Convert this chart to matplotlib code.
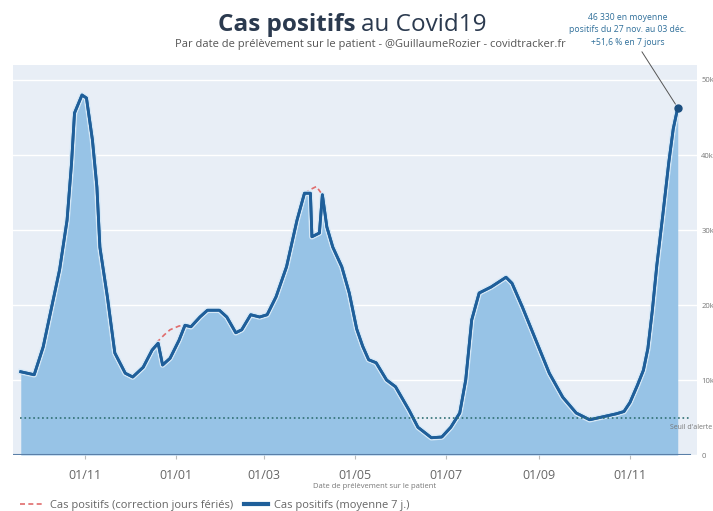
import matplotlib
matplotlib.use("Agg")
import matplotlib.pyplot as plt
import matplotlib.patheffects as pe
import pandas as pd
from matplotlib.lines import Line2D

plt.rcParams['font.family'] = ['Open Sans', 'DejaVu Sans']

# Cas positifs, moyenne 7 jours (par date de prélèvement)
dates = ["2020-09-19", "2020-09-28", "2020-10-04", "2020-10-15", "2020-10-20", "2020-10-23",
         "2020-10-25", "2020-10-30", "2020-11-02", "2020-11-06", "2020-11-09", "2020-11-11",
         "2020-11-16", "2020-11-21", "2020-11-28", "2020-12-03", "2020-12-10", "2020-12-16",
         "2020-12-20", "2020-12-23", "2020-12-28", "2021-01-03", "2021-01-07", "2021-01-11",
         "2021-01-17", "2021-01-22", "2021-01-30", "2021-02-04", "2021-02-10", "2021-02-14",
         "2021-02-20", "2021-02-26", "2021-03-03", "2021-03-09", "2021-03-16", "2021-03-23",
         "2021-03-28", "2021-04-01", "2021-04-02", "2021-04-07", "2021-04-09", "2021-04-12",
         "2021-04-16", "2021-04-22", "2021-04-27", "2021-05-02", "2021-05-06", "2021-05-10",
         "2021-05-15", "2021-05-22", "2021-05-28", "2021-06-06", "2021-06-12", "2021-06-21",
         "2021-06-28", "2021-07-04", "2021-07-10", "2021-07-14", "2021-07-18", "2021-07-23",
         "2021-07-31", "2021-08-10", "2021-08-14", "2021-08-21", "2021-08-30", "2021-09-08",
         "2021-09-17", "2021-09-26", "2021-10-05", "2021-10-14", "2021-10-23", "2021-10-28",
         "2021-11-01", "2021-11-06", "2021-11-10", "2021-11-13", "2021-11-16", "2021-11-19",
         "2021-11-23", "2021-11-27", "2021-11-30", "2021-12-03"]
cas = [11100, 10700, 14400, 24700, 31300, 38900,
       45600, 48000, 47600, 42000, 35700, 27700,
       21100, 13600, 10900, 10400, 11700, 14000,
       14900, 12000, 12900, 15300, 17300, 17100,
       18400, 19300, 19300, 18400, 16300, 16700,
       18700, 18400, 18700, 21100, 25100, 31300,
       34900, 34900, 29100, 29600, 34700, 30400,
       27700, 25100, 21600, 16800, 14500, 12700,
       12300, 10000, 9100, 6000, 3700, 2300,
       2400, 3700, 5600, 10000, 18000, 21600,
       22400, 23700, 22900, 19700, 15300, 10900,
       7700, 5600, 4700, 5100, 5500, 5800,
       7000, 9300, 11300, 14200, 19300, 25300,
       32000, 39000, 43500, 46300]

# Correction jours fériés (segments où elle diffère)
corr_noel_dates = ["2020-12-16", "2020-12-20", "2020-12-24", "2020-12-28", "2021-01-03", "2021-01-07"]
corr_noel = [14000, 15200, 16000, 16700, 17200, 17300]
corr_paques_dates = ["2021-03-28", "2021-04-01", "2021-04-05", "2021-04-09"]
corr_paques = [34900, 35400, 35800, 34700]

seuil = 5000
xticks = ["2020-11-01", "2021-01-01", "2021-03-01", "2021-05-01", "2021-07-01", "2021-09-01", "2021-11-01"]
xtick_labels = ["01/11", "01/01", "01/03", "01/05", "01/07", "01/09", "01/11"]
yticks = [0, 10000, 20000, 30000, 40000, 50000]
ytick_labels = ["0", "10k", "20k", "30k", "40k", "50k"]

W, H = 713, 511
fig = plt.figure(figsize=(W / 100, H / 100), dpi=100)
ax = fig.add_axes([13 / W, (H - 455) / H, 684 / W, 390 / H])
ax.set_facecolor("#e8eef6")

x = pd.to_datetime(dates)
ax.fill_between(x, cas, color="#97c3e6", lw=0, zorder=2)
ax.plot(pd.to_datetime(corr_noel_dates), corr_noel, color="#e06c6c", lw=1.2, ls=(0, (3, 2)), zorder=3)
ax.plot(pd.to_datetime(corr_paques_dates), corr_paques, color="#e06c6c", lw=1.2, ls=(0, (3, 2)), zorder=3)
ax.plot(x, cas, color="#1f5f9a", lw=2, zorder=4,
        path_effects=[pe.withStroke(linewidth=4, foreground="#d6e8f6"), pe.Normal()])
ax.plot(x[-1], cas[-1], "o", color="#1c4f80", ms=5, zorder=5)
ax.axhline(seuil, xmin=0.01, xmax=0.99, color="#2f6f73", lw=1.2, ls=":", zorder=4)
ax.axhline(0, xmin=0, xmax=0.99, color="#5a7fa8", lw=1.5, zorder=4)
ax.text(1.0215, seuil - 800, "Seuil d'alerte", transform=ax.get_yaxis_transform(),
        fontsize=5, color="#777777", ha="right", va="top")

x0 = pd.Timestamp("2020-11-01")
ax.set_xlim(x0 - pd.Timedelta(days=48.2), x0 + pd.Timedelta(days=409.9))
ax.set_ylim(0, 52000)
ax.set_xticks(pd.to_datetime(xticks))
ax.set_xticklabels(xtick_labels)
ax.yaxis.tick_right()
ax.set_yticks(yticks)
ax.set_yticklabels(ytick_labels)
ax.tick_params(axis="y", length=0, pad=3, labelsize=5.5, labelcolor="#777777")
ax.tick_params(axis="x", length=3, color="#bbbbbb", pad=7, labelsize=9, labelcolor="#666666")
ax.grid(axis="y", color="white", lw=1, zorder=1)
ax.set_axisbelow(True)
for s in ax.spines.values():
    s.set_visible(False)

ax.set_xlabel("Date de prélèvement sur le patient", fontsize=5.5, color="#777777")
ax.xaxis.set_label_coords((375 - 13) / 684, -(486 - 455) / 390)
ax.xaxis.label.set_va("center")

# titre en deux parties
r = fig.canvas.get_renderer()
t1 = fig.text(218 / W, 1 - 25 / H, "Cas positifs", fontsize=17.5, fontweight="bold",
              color="#2b3a4f", va="center", ha="left")
bb = t1.get_window_extent(renderer=r)
fig.text(bb.x1 / W + 6 / W, 1 - 25 / H, "au Covid19", fontsize=17.5, color="#2b3a4f", va="center", ha="left")
fig.text(370 / W, 1 - 44 / H, "Par date de prélèvement sur le patient - @GuillaumeRozier - covidtracker.fr",
         fontsize=8, color="#555555", ha="center", va="center")

# annotation du dernier point
ax.annotate("46 330 en moyenne\npositifs du 27 nov. au 03 déc.\n+51,6 % en 7 jours",
            xy=(x[-1], cas[-1]), xycoords="data",
            xytext=(628 / W, 1 - 30 / H), textcoords="figure fraction",
            ha="center", va="center", fontsize=6.2, color="#2f6f9a", linespacing=1.45,
            arrowprops=dict(arrowstyle="-", color="#555555", lw=0.7, shrinkA=2, shrinkB=3),
            annotation_clip=False)

handles = [Line2D([], [], color="#e06c6c", lw=1.2, ls=(0, (3, 2))),
           Line2D([], [], color="#1f5f9a", lw=3)]
fig.legend(handles, ["Cas positifs (correction jours fériés)", "Cas positifs (moyenne 7 j.)"],
           loc="center left", bbox_to_anchor=(14 / W, 1 - 505 / H), ncol=2, frameon=False,
           fontsize=8, labelcolor="#666666", handlelength=2.2, columnspacing=1.0, handletextpad=0.5,
           borderpad=0)

fig.savefig("out.png", dpi=100)
